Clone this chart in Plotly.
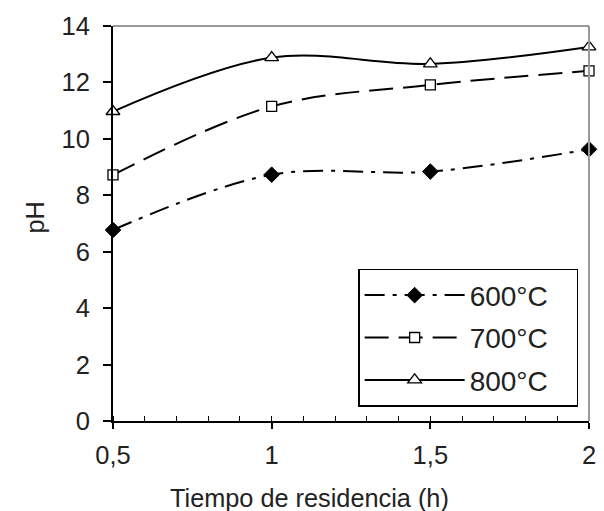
import plotly.graph_objects as go

x_hours = [0.5, 1.0, 1.5, 2.0]
ph_600 = [6.77, 8.73, 8.84, 9.63]
ph_700 = [8.72, 11.15, 11.91, 12.41]
ph_800 = [10.97, 12.88, 12.66, 13.26]
series_names = ["600°C", "700°C", "800°C"]

FONT = "Liberation Sans, Arial, sans-serif"

fig = go.Figure()
styles = [
    (ph_600, dict(color="black", width=2, dash="20px,8px,4px,8px"),
     dict(symbol="diamond", size=12, color="black", line=dict(color="black", width=1))),
    (ph_700, dict(color="black", width=2, dash="24px,10px"),
     dict(symbol="square", size=10, color="white", line=dict(color="black", width=1.3))),
    (ph_800, dict(color="black", width=2),
     dict(symbol="triangle-up", size=12, color="white", line=dict(color="black", width=1.3))),
]
for name, (vals, line, marker) in zip(series_names, styles):
    fig.add_trace(go.Scatter(
        x=x_hours, y=vals, name=name + "\u00a0\u00a0\u00a0", mode="lines+markers",
        line=dict(shape="spline", smoothing=1, **line),
        marker=marker, cliponaxis=False, legendgroup=name,
    ))

fig.update_layout(
    width=604, height=511,
    margin=dict(l=113, r=8, t=26, b=90),
    paper_bgcolor="white", plot_bgcolor="white",
    separators=",.",
    font=dict(family=FONT, size=25, color="#222"),
    showlegend=True,
    legend=dict(
        x=0.515, y=0.385, xanchor="left", yanchor="top",
        bgcolor="white", bordercolor="black", borderwidth=1.5,
        font=dict(size=28, family=FONT, color="#222"),
        tracegroupgap=3, itemwidth=100,
    ),
    xaxis=dict(
        range=[0.5, 2], tick0=0.5, dtick=0.5,
        showgrid=False, zeroline=False,
        showline=True, linecolor="black", linewidth=2,
        ticks="outside", ticklen=6, tickwidth=1.5, tickcolor="black",
        minor=dict(dtick=0.1, ticks="inside", ticklen=5, tickwidth=1.3, tickcolor="black"),
        tickfont=dict(size=25.5, family=FONT, color="#222"),
        ticklabelstandoff=4,
    ),
    yaxis=dict(
        range=[0, 14], tick0=0, dtick=2,
        showgrid=False, zeroline=False,
        showline=True, linecolor="black", linewidth=2,
        ticks="outside", ticklen=8, tickwidth=1.5, tickcolor="black",
        tickfont=dict(size=25.5, family=FONT, color="#222"),
        ticklabelstandoff=8,
    ),
    shapes=[
        dict(type="line", xref="paper", yref="paper", x0=0, x1=1, y0=1, y1=1,
             line=dict(color="#999", width=2)),
        dict(type="line", xref="paper", yref="paper", x0=1, x1=1, y0=0, y1=1,
             line=dict(color="#999", width=2)),
    ],
    annotations=[
        dict(text="Tiempo de residencia (h)", xref="paper", yref="paper",
             x=0.412, y=-0.195, xanchor="center", yanchor="middle", showarrow=False,
             font=dict(size=25.3, family=FONT, color="#222")),
        dict(text="pH", xref="paper", yref="paper", textangle=-90,
             x=-0.163, y=0.516, xanchor="center", yanchor="middle", showarrow=False,
             font=dict(size=25.3, family=FONT, color="#222")),
    ],
)

fig.write_html("out.html", config={"displayModeBar": False},
               post_script="document.body.style.margin='0';document.body.style.overflow='hidden';")
